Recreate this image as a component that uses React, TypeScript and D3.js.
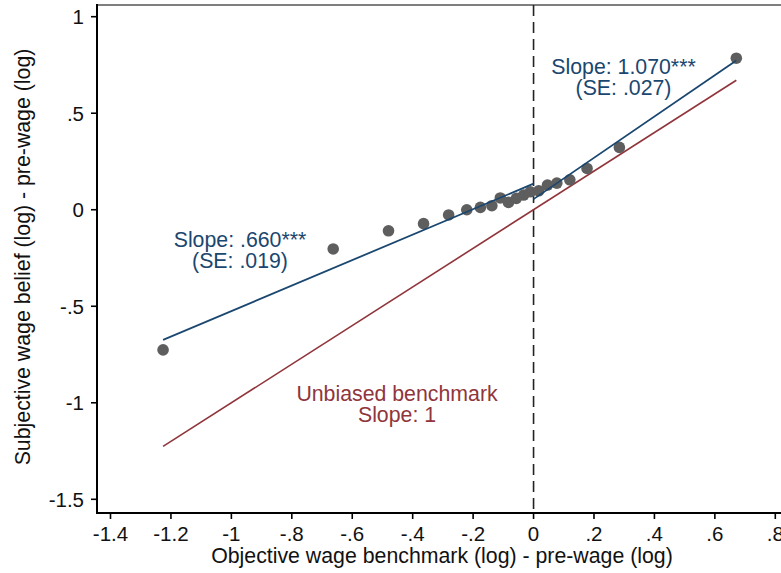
import React, { useEffect, useRef } from 'react'
import * as d3 from 'd3'

// binned scatter points: objective benchmark vs subjective belief (both log, minus pre-wage)
const binX = [-1.226, -0.663, -0.48, -0.364, -0.281, -0.221, -0.176, -0.138, -0.11, -0.083, -0.057, -0.033, -0.011, 0.017, 0.046, 0.077, 0.12, 0.177, 0.284, 0.671]
const binY = [-0.726, -0.203, -0.109, -0.072, -0.027, 0.0, 0.012, 0.021, 0.061, 0.038, 0.059, 0.076, 0.093, 0.098, 0.128, 0.138, 0.155, 0.214, 0.323, 0.785]

// fitted segments (endpoints)
const fitBelowX = [-1.226, 0]
const fitBelowY = [-0.674, 0.135]
const fitAboveX = [0, 0.671]
const fitAboveY = [0.055, 0.773]
const benchmarkX = [-1.226, 0.671]
const benchmarkY = [-1.226, 0.671]

const xTicks = [-1.4, -1.2, -1, -0.8, -0.6, -0.4, -0.2, 0, 0.2, 0.4, 0.6, 0.8]
const yTicks = [-1.5, -1, -0.5, 0, 0.5, 1]

const BLUE = '#1a476f'
const RED = '#90353b'
const DOT = '#5e5e5e'

const fmt = (v: number) => {
  if (v === 0) return '0'
  const s = String(v)
  return s.replace(/^(-?)0\./, '$1.')
}

export default function App() {
  const svgRef = useRef<SVGSVGElement>(null)

  useEffect(() => {
    if (!svgRef.current) return
    const width = 781
    const height = 573
    const left = 97
    const bottom = 513
    const top = 5
    const font = 'Liberation Sans, Arial, sans-serif'
    const titleSize = '21.3px'

    const x = d3.scaleLinear().domain([-1.4, 0.8]).range([110.5, 775.3])
    const y = d3.scaleLinear().domain([-1.5, 1]).range([499.3, 16.7])

    const svg = d3.select(svgRef.current)
      .attr('width', width)
      .attr('height', height)
      .attr('viewBox', `0 0 ${width} ${height}`)
    svg.selectAll('*').remove()

    svg.append('rect').attr('width', width).attr('height', height).attr('fill', '#fff')

    // top frame line
    svg.append('line')
      .attr('x1', left).attr('x2', width)
      .attr('y1', top).attr('y2', top)
      .attr('stroke', '#555').attr('stroke-width', 1.5)

    // dashed reference at zero
    svg.append('line')
      .attr('x1', x(0)).attr('x2', x(0))
      .attr('y1', top).attr('y2', bottom)
      .attr('stroke', '#222').attr('stroke-width', 1.6)
      .attr('stroke-dasharray', '11,6')

    const line = d3.line<[number, number]>().x(d => x(d[0])).y(d => y(d[1]))
    const seg = (xs: number[], ys: number[]) => xs.map((v, i) => [v, ys[i]] as [number, number])

    svg.append('path').attr('d', line(seg(benchmarkX, benchmarkY)))
      .attr('fill', 'none').attr('stroke', RED).attr('stroke-width', 1.6)

    svg.selectAll('circle.bin')
      .data(binX.map((v, i) => [v, binY[i]]))
      .enter().append('circle')
      .attr('class', 'bin')
      .attr('cx', d => x(d[0]))
      .attr('cy', d => y(d[1]))
      .attr('r', 5.8)
      .attr('fill', DOT)

    svg.append('path').attr('d', line(seg(fitBelowX, fitBelowY)))
      .attr('fill', 'none').attr('stroke', BLUE).attr('stroke-width', 1.8)
    svg.append('path').attr('d', line(seg(fitAboveX, fitAboveY)))
      .attr('fill', 'none').attr('stroke', BLUE).attr('stroke-width', 1.8)

    // axes
    svg.append('line')
      .attr('x1', left).attr('x2', left).attr('y1', top - 1).attr('y2', bottom + 1)
      .attr('stroke', '#000').attr('stroke-width', 2)
    svg.append('line')
      .attr('x1', left - 1).attr('x2', width).attr('y1', bottom).attr('y2', bottom)
      .attr('stroke', '#000').attr('stroke-width', 2)

    const yg = svg.append('g')
    yg.selectAll('line').data(yTicks).enter().append('line')
      .attr('x1', left - 6).attr('x2', left)
      .attr('y1', d => y(d)).attr('y2', d => y(d))
      .attr('stroke', '#000').attr('stroke-width', 1.6)
    yg.selectAll('text').data(yTicks).enter().append('text')
      .attr('x', 84).attr('y', d => y(d)).attr('dy', '0.36em')
      .attr('text-anchor', 'end')
      .style('font-family', font).style('font-size', '20.5px')
      .attr('fill', '#111')
      .text(d => fmt(d))

    const xg = svg.append('g')
    xg.selectAll('line').data(xTicks).enter().append('line')
      .attr('x1', d => x(d)).attr('x2', d => x(d))
      .attr('y1', bottom).attr('y2', bottom + 6)
      .attr('stroke', '#000').attr('stroke-width', 1.6)
    xg.selectAll('text').data(xTicks).enter().append('text')
      .attr('x', d => x(d)).attr('y', 541)
      .attr('text-anchor', 'middle')
      .style('font-family', font).style('font-size', '20.5px')
      .attr('fill', '#111')
      .text(d => fmt(d))

    svg.append('text')
      .attr('transform', 'translate(30,257) rotate(-90)')
      .attr('text-anchor', 'middle')
      .style('font-family', font).style('font-size', titleSize)
      .attr('fill', '#111')
      .text('Subjective wage belief (log) - pre-wage (log)')

    svg.append('text')
      .attr('x', 442).attr('y', 563)
      .attr('text-anchor', 'middle')
      .style('font-family', font).style('font-size', titleSize)
      .attr('fill', '#111')
      .text('Objective wage benchmark (log) - pre-wage (log)')

    // annotations
    const note = (cx: number, by: number, lines: string[], color: string) => {
      lines.forEach((t, i) => {
        svg.append('text')
          .attr('x', cx).attr('y', by + i * 20.5)
          .attr('text-anchor', 'middle')
          .style('font-family', font).style('font-size', titleSize)
          .attr('fill', color)
          .text(t)
      })
    }
    note(240, 247, ['Slope: .660***', '(SE: .019)'], BLUE)
    note(623.5, 74, ['Slope: 1.070***', '(SE: .027)'], BLUE)
    note(397, 401, ['Unbiased benchmark', 'Slope: 1'], RED)
  }, [])

  return (
    <svg ref={svgRef} style={{ position: 'fixed', top: 0, left: 0, display: 'block' }}></svg>
  )
}
